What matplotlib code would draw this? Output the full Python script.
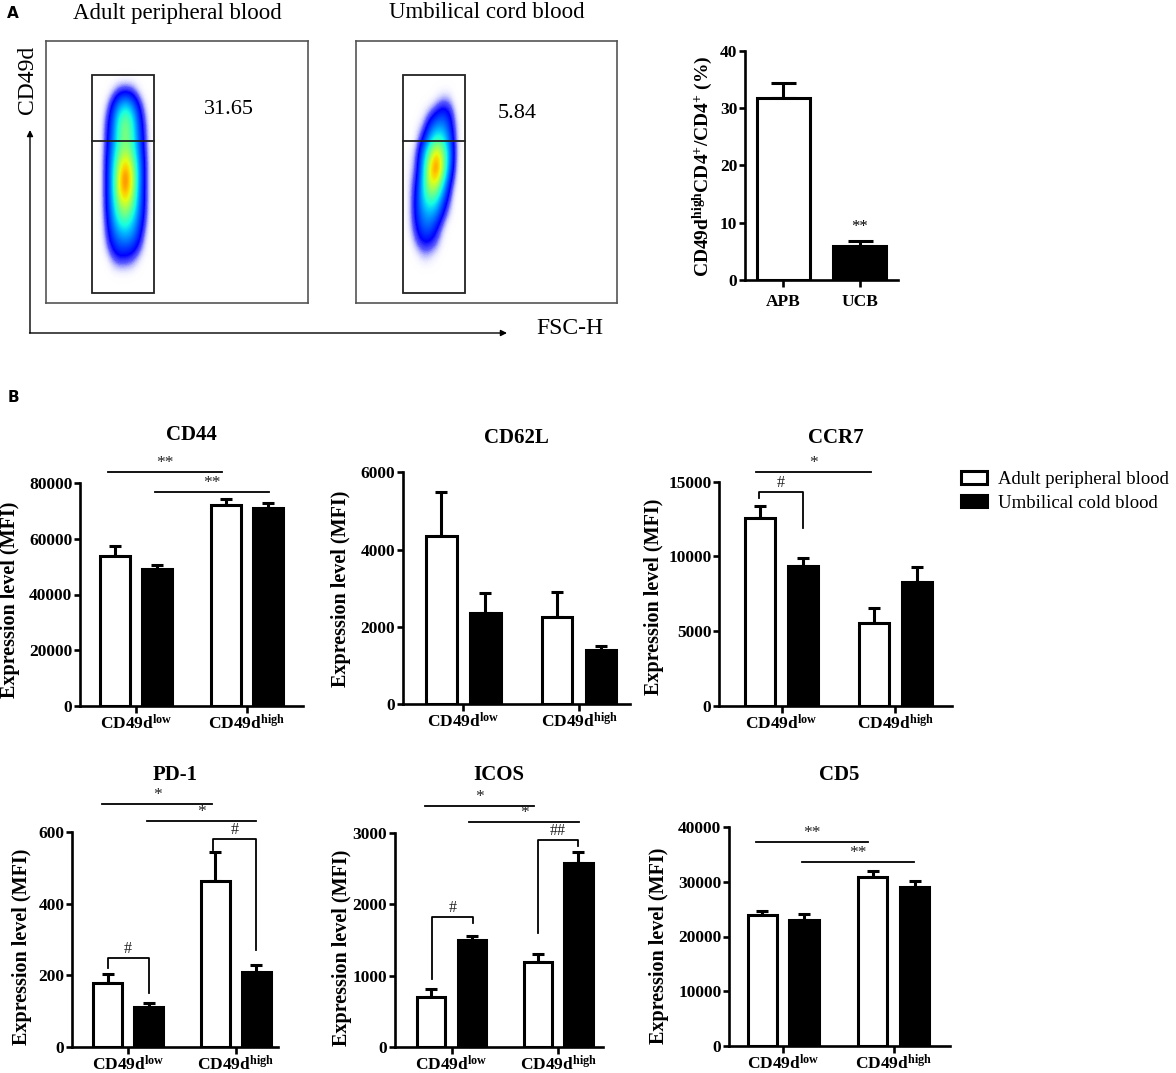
import matplotlib
matplotlib.use('Agg')
import matplotlib.pyplot as plt
import numpy as np
from matplotlib.patches import Rectangle, Patch
from matplotlib.colors import LinearSegmentedColormap

# ---------------- data ----------------
groups = ['CD49d$^{low}$', 'CD49d$^{high}$']
series = ['Adult peripheral blood', 'Umbilical cold blood']

pct_labels = ['APB', 'UCB']
pct_values = [31.7, 5.9]
pct_sem = [2.7, 0.9]
pct_ticks = [0, 10, 20, 30, 40]
gate_pct = ['31.65', '5.84']
flow_titles = ['Adult peripheral blood', 'Umbilical cord blood']

cd44_apb, cd44_apb_sem = [54000, 72200], [3600, 2200]
cd44_ucb, cd44_ucb_sem = [49000, 71000], [1600, 1800]
cd44_ticks = [0, 20000, 40000, 60000, 80000]

cd62l_apb, cd62l_apb_sem = [4350, 2260], [1150, 650]
cd62l_ucb, cd62l_ucb_sem = [2350, 1400], [520, 110]
cd62l_ticks = [0, 2000, 4000, 6000]

ccr7_apb, ccr7_apb_sem = [12550, 5510], [820, 1000]
ccr7_ucb, ccr7_ucb_sem = [9350, 8300], [510, 1000]
ccr7_ticks = [0, 5000, 10000, 15000]

pd1_apb, pd1_apb_sem = [179, 462], [26, 81]
pd1_ucb, pd1_ucb_sem = [113, 209], [9, 21]
pd1_ticks = [0, 200, 400, 600]

icos_apb, icos_apb_sem = [700, 1193], [110, 111]
icos_ucb, icos_ucb_sem = [1500, 2571], [60, 162]
icos_ticks = [0, 1000, 2000, 3000]

cd5_apb, cd5_apb_sem = [23960, 30790], [610, 1100]
cd5_ucb, cd5_ucb_sem = [22930, 28960], [1160, 1220]
cd5_ticks = [0, 10000, 20000, 30000, 40000]

# coarse density (rows top->bottom)
apb_density = np.array([
    [0, .04, .10, .12, .10, .04, 0],
    [.04, .15, .30, .38, .30, .15, .04],
    [.08, .22, .45, .58, .45, .22, .08],
    [.10, .25, .48, .62, .48, .25, .10],
    [.10, .28, .50, .60, .50, .28, .10],
    [.12, .32, .62, .80, .62, .32, .12],
    [.12, .34, .72, .95, .72, .34, .12],
    [.12, .34, .72, .90, .68, .32, .12],
    [.12, .32, .58, .70, .56, .30, .12],
    [.10, .28, .46, .52, .42, .26, .10],
    [.08, .22, .32, .36, .32, .20, .06],
    [.05, .15, .22, .22, .20, .12, .03],
    [0, .06, .10, .10, .08, .03, 0]])
ucb_density = np.array([
    [0, 0, 0, 0, .03, .06, .05, 0],
    [0, 0, .03, .08, .15, .20, .15, .03],
    [0, .03, .08, .22, .32, .32, .20, .06],
    [0, .06, .18, .38, .52, .46, .26, .06],
    [.03, .10, .32, .62, .85, .60, .30, .06],
    [.04, .12, .38, .78, .95, .60, .25, .05],
    [.06, .16, .42, .72, .70, .40, .15, .03],
    [.06, .20, .40, .52, .45, .25, .10, 0],
    [.06, .20, .32, .36, .30, .15, .05, 0],
    [.05, .16, .26, .26, .16, .06, 0, 0],
    [.02, .10, .16, .15, .10, .02, 0, 0],
    [0, .02, .06, .05, .02, 0, 0, 0]])

# ---------------- style ----------------
W, H = 1176, 1073
plt.rcParams['font.family'] = ['Liberation Serif', 'DejaVu Serif']
plt.rcParams['mathtext.fontset'] = 'custom'
plt.rcParams['mathtext.rm'] = 'Liberation Serif'
plt.rcParams['mathtext.bf'] = 'Liberation Serif:bold'
plt.rcParams['mathtext.it'] = 'Liberation Serif:italic'
plt.rcParams['mathtext.default'] = 'bf'

fig = plt.figure(figsize=(W / 100, H / 100), dpi=100)


def px_axes(l, t, r, b):
    return fig.add_axes([l / W, 1 - b / H, (r - l) / W, (b - t) / H])


ov = fig.add_axes([0, 0, 1, 1], zorder=5)
ov.set_xlim(0, W)
ov.set_ylim(H, 0)
ov.axis('off')

# ---------------- panel A: flow plots ----------------
jet = plt.get_cmap('jet')
stops = [(0.0, (1, 1, 1, 0)), (0.04, (0.75, 0.75, 1.0, 0.35)), (0.10, (0.25, 0.25, 1.0, 0.85)),
         (0.16, (0.0, 0.0, 1.0, 1.0))]
for t in np.linspace(0, 1, 13)[1:]:
    stops.append((0.16 + 0.84 * t, jet(0.125 + 0.75 * t)))
flow_cmap = LinearSegmentedColormap.from_list('flow', stops)

flow_boxes = [(46, 41, 308, 303), (356, 41, 617, 303)]
gates = [(46, 108), (47, 109)]
# extents of the zero-padded grids (box pixel coords: left, right, bottom, top)
extents = [(49, 110, 244, 27), (44, 111, 238, 34)]
dens = [apb_density, ucb_density]
pct_pos = [(158, 69), (142, 72)]
for i in range(2):
    ax = px_axes(*flow_boxes[i])
    ax.set_xlim(0, 262)
    ax.set_ylim(262, 0)
    ax.set_xticks([])
    ax.set_yticks([])
    for s in ax.spines.values():
        s.set_color('#555555')
        s.set_linewidth(1.2)
    ax.imshow(np.pad(dens[i], 1), cmap=flow_cmap, vmin=0.0, vmax=1.0, extent=extents[i],
              interpolation='bicubic', aspect='auto', zorder=1)
    g0, g1 = gates[i]
    ax.add_patch(Rectangle((g0, 34), g1 - g0, 218, fill=False, ec='#222222', lw=1.3, zorder=3))
    ax.plot([g0, g1], [100, 100], color='#222222', lw=1.3, zorder=3)
    ax.text(pct_pos[i][0], pct_pos[i][1], gate_pct[i], fontsize=16, ha='left', va='center')
    ov.text((flow_boxes[i][0] + flow_boxes[i][2]) / 2, 13, flow_titles[i], fontsize=16.5,
            ha='center', va='center')

ov.annotate('', xy=(30, 130), xytext=(30, 333),
            arrowprops=dict(arrowstyle='-|>', lw=1.0, color='black', mutation_scale=9,
                            shrinkA=0, shrinkB=0))
ov.annotate('', xy=(507, 333), xytext=(29.5, 333),
            arrowprops=dict(arrowstyle='-|>', lw=1.0, color='black', mutation_scale=9,
                            shrinkA=0, shrinkB=0))
ov.text(27, 80, 'CD49d', fontsize=17, rotation=90, ha='center', va='center')
ov.text(570, 328, 'FSC-H', fontsize=17, ha='center', va='center')
ov.text(13, 14, 'A', fontsize=11, fontweight='bold', family='DejaVu Sans', ha='center', va='center')
ov.text(13, 398, 'B', fontsize=11, fontweight='bold', family='DejaVu Sans', ha='center', va='center')

LW = 1.9


def style_axes(ax):
    for k in ['top', 'right']:
        ax.spines[k].set_visible(False)
    for k in ['left', 'bottom']:
        ax.spines[k].set_linewidth(LW)
    ax.tick_params(axis='y', length=4, width=LW, pad=1.5, labelsize=12.5)
    ax.tick_params(axis='x', length=5, width=LW, pad=1, labelsize=12.5)
    for lbl in ax.get_xticklabels() + ax.get_yticklabels():
        lbl.set_fontweight('bold')


# ---------------- panel A: percentage bar chart ----------------
axp = px_axes(745, 50.7, 898, 280)
xp = np.arange(2)
axp.bar(xp, pct_values, 0.69, color=['white', 'black'], edgecolor='black', lw=2.2, zorder=3)
axp.errorbar(xp, pct_values, yerr=[np.zeros(2), pct_sem], fmt='none', ecolor='black',
             elinewidth=2.2, capsize=9, capthick=2.2, zorder=2)
axp.set_xlim(-0.5, 1.5)
axp.set_ylim(0, 40)
axp.set_yticks(pct_ticks)
axp.set_xticks(xp)
axp.set_xticklabels(pct_labels)
style_axes(axp)
axp.tick_params(axis='x', pad=5)
axp.text(1, 9.2, '**', fontsize=12, ha='center', va='center')
ov.text(703, 166, 'CD49d$^{high}$CD4$^{+}$/CD4$^{+}$ (%)', fontsize=14, fontweight='bold',
        rotation=90, ha='center', va='center')

# ---------------- panel B ----------------
OFF, BW = 0.19, 0.265


def bar_panel(rect, xlim, ymax, ticks, title, title_y, ylab_xy, apb, apb_sem, ucb, ucb_sem, ann):
    ax = px_axes(*rect)
    x = np.arange(2)
    ax.bar(x - OFF, apb, BW, color='white', edgecolor='black', lw=2.2, zorder=3)
    ax.bar(x + OFF, ucb, BW, color='black', edgecolor='black', lw=2.2, zorder=3)
    ax.errorbar(x - OFF, apb, yerr=[np.zeros(2), apb_sem], fmt='none', ecolor='black',
                elinewidth=2.2, capsize=4.5, capthick=2.2, zorder=2)
    ax.errorbar(x + OFF, ucb, yerr=[np.zeros(2), ucb_sem], fmt='none', ecolor='black',
                elinewidth=2.2, capsize=4.5, capthick=2.2, zorder=2)
    ax.set_xlim(*xlim)
    ax.set_ylim(0, ymax)
    ax.set_yticks(ticks)
    ax.set_xticks(x)
    ax.set_xticklabels(groups)
    style_axes(ax)
    ov.text((rect[0] + rect[2]) / 2, title_y, title, fontsize=15, fontweight='bold',
            ha='center', va='center')
    ov.text(ylab_xy[0], ylab_xy[1], 'Expression level (MFI)', fontsize=14.5, fontweight='bold',
            rotation=90, ha='center', va='center')
    for a in ann:
        if a[0] == 'line':
            _, x1, x2, y, lab = a
            ax.plot([x1, x2], [y, y], color='black', lw=1.3, clip_on=False)
        else:
            _, x1, x2, y, yl, yr, lab = a
            ax.plot([x1, x1, x2, x2], [yl, y, y, yr], color='black', lw=1.3, clip_on=False)
        xm = (x1 + x2) / 2
        ax.annotate(lab, xy=(xm, y), xytext=(0, 6.5), textcoords='offset points',
                    ha='center', va='center', fontsize=12.5 if '*' in lab else 11.5,
                    color='#222222', annotation_clip=False)
    return ax


bar_panel((80, 483.3, 303, 705.7), (-0.505, 1.505), 80000, cd44_ticks, 'CD44', 435, (10, 600),
          cd44_apb, cd44_apb_sem, cd44_ucb, cd44_ucb_sem,
          [('line', -0.25, 0.775, 84170, '**'), ('line', 0.17, 1.2, 76980, '**')])
bar_panel((403, 472.3, 630, 704), (-0.52, 1.44), 6000, cd62l_ticks, 'CD62L', 438, (341, 589),
          cd62l_apb, cd62l_apb_sem, cd62l_ucb, cd62l_ucb_sem, [])
bar_panel((719, 481.7, 952, 705.7), (-0.55, 1.50), 15000, ccr7_ticks, 'CCR7', 438, (654, 597),
          ccr7_apb, ccr7_apb_sem, ccr7_ucb, ccr7_ucb_sem,
          [('line', -0.225, 0.79, 15670, '*'),
           ('bracket', -0.198, 0.189, 14330, 13910, 11900, '#')])
bar_panel((72, 832, 278, 1047), (-0.52, 1.39), 600, pd1_ticks, 'PD-1', 775, (22, 947),
          pd1_apb, pd1_apb_sem, pd1_ucb, pd1_ucb_sem,
          [('line', -0.24, 0.78, 678, '*'), ('line', 0.176, 1.19, 631, '*'),
           ('bracket', -0.19, 0.19, 248, 220, 151, '#'),
           ('bracket', 0.79, 1.19, 580, 550, 271, '#')])
bar_panel((395, 832.7, 603, 1047), (-0.53, 1.42), 3000, icos_ticks, 'ICOS', 775, (342, 948),
          icos_apb, icos_apb_sem, icos_ucb, icos_ucb_sem,
          [('line', -0.25, 0.775, 3378, '*'), ('line', 0.164, 1.197, 3154, '*'),
           ('bracket', -0.183, 0.202, 1813, 945, 1729, '#'),
           ('bracket', 0.812, 1.188, 2898, 1596, 2814, '##')])
bar_panel((729, 827, 950, 1046), (-0.49, 1.51), 40000, cd5_ticks, 'CD5', 775, (659, 946),
          cd5_apb, cd5_apb_sem, cd5_ucb, cd5_ucb_sem,
          [('line', -0.25, 0.77, 37300, '**'), ('line', 0.17, 1.185, 33650, '**')])

# legend
handles = [Patch(facecolor='white', edgecolor='black', lw=2.2),
           Patch(facecolor='black', edgecolor='black', lw=2.2)]
fig.legend(handles, series, loc='upper left', bbox_to_anchor=(961 / W, 1 - 471 / H),
           frameon=False, fontsize=13.5, handlelength=1.4, handleheight=0.65,
           handletextpad=0.6, labelspacing=0.35, borderpad=0, borderaxespad=0)

fig.savefig('out.png', dpi=100)
